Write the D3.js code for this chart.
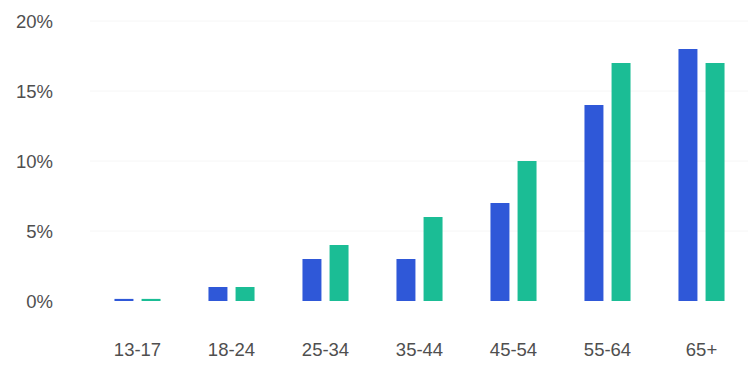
<!DOCTYPE html>
<html>
<head>
<meta charset="utf-8">
<script src="https://cdn.jsdelivr.net/npm/d3@7/dist/d3.min.js"></script>
<style>
  body { margin: 0; background: #fff; }
  svg text { font-family: "Liberation Sans", Arial, sans-serif; fill: #4f4f4f; }
</style>
</head>
<body>
<div id="chart"></div>
<script>
// chart data
const ageGroups = ["13-17", "18-24", "25-34", "35-44", "45-54", "55-64", "65+"];
const seriesNames = ["blue", "green"];
const blueValues = [0.15, 1, 3, 3, 7, 14, 18];
const greenValues = [0.15, 1, 4, 6, 10, 17, 17];
const yTicks = [0, 5, 10, 15, 20];
const colors = { blue: "#2f58d8", green: "#1bbd95" };

const width = 749, height = 370;

const svg = d3.select("#chart").append("svg")
    .attr("width", width)
    .attr("height", height);

// scales
const x0 = d3.scaleBand()
    .domain(ageGroups)
    .range([90.5, 748.5])
    .paddingInner(0.51)
    .paddingOuter(0.255);

const x1 = d3.scaleBand()
    .domain(seriesNames)
    .range([0, x0.bandwidth()])
    .paddingInner(0.3);

const y = d3.scaleLinear()
    .domain([0, 20])
    .range([301, 21]);

// faint grid
svg.append("g")
    .selectAll("line")
    .data(yTicks.slice(1))
    .join("line")
    .attr("x1", 90).attr("x2", 748)
    .attr("y1", d => y(d)).attr("y2", d => y(d))
    .attr("stroke", "#f6f6f6")
    .attr("stroke-width", 1);

// y axis
const yAxis = svg.append("g")
    .attr("transform", "translate(53,0)")
    .call(d3.axisLeft(y).tickValues(yTicks).tickSize(0).tickPadding(0).tickFormat(d => d + "%"));
yAxis.select(".domain").remove();
yAxis.selectAll("text").style("font-size", "18.5px").attr("dy", "0.35em");

// x axis
const xAxis = svg.append("g")
    .attr("transform", "translate(0,339)")
    .call(d3.axisBottom(x0).tickSize(0).tickPadding(0));
xAxis.select(".domain").remove();
xAxis.selectAll("text").style("font-size", "18.5px").attr("dy", "0.9em");

// bars
const rows = ageGroups.map((g, i) => ({ group: g, blue: blueValues[i], green: greenValues[i] }));

svg.append("g")
    .selectAll("g")
    .data(rows)
    .join("g")
    .attr("transform", d => `translate(${x0(d.group)},0)`)
    .selectAll("rect")
    .data(d => seriesNames.map(k => ({ key: k, value: d[k] })))
    .join("rect")
    .attr("x", d => x1(d.key))
    .attr("y", d => y(d.value))
    .attr("width", x1.bandwidth())
    .attr("height", d => y(0) - y(d.value))
    .attr("fill", d => colors[d.key]);
</script>
</body>
</html>
